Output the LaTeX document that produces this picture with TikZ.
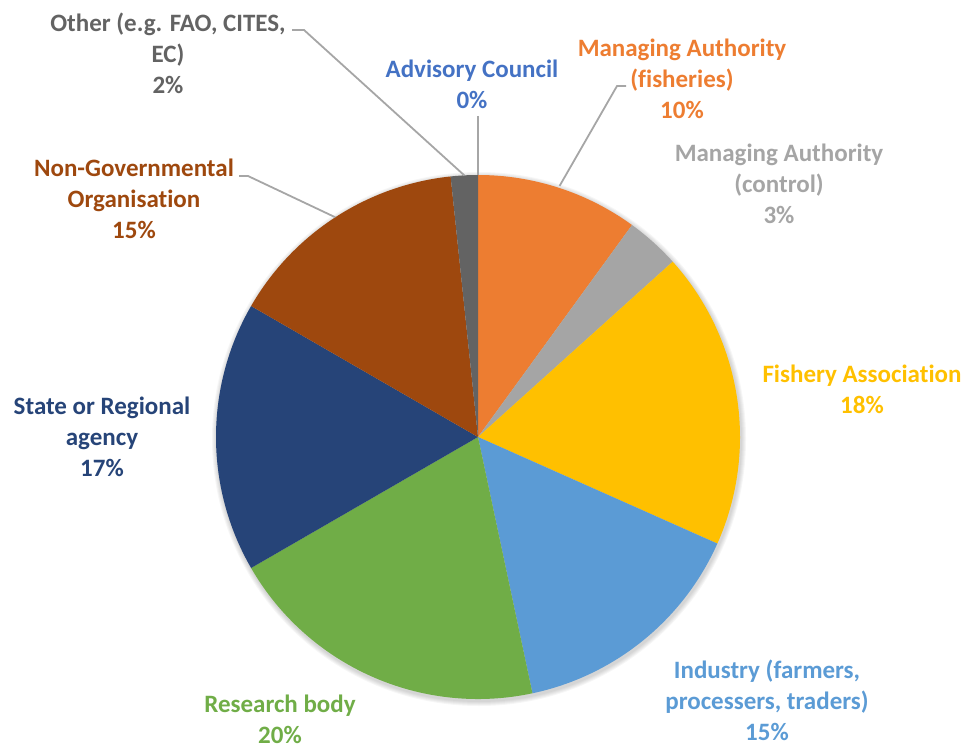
\documentclass[tikz,border=0pt]{standalone}
\usepackage{fontspec}
\setmainfont{Carlito}[Ligatures={NoCommon}]
\usetikzlibrary{calc}
\definecolor{cOrange}{HTML}{ED7D31}
\definecolor{cGray}{HTML}{A5A5A5}
\definecolor{cGold}{HTML}{FFC000}
\definecolor{cLBlue}{HTML}{5B9BD5}
\definecolor{cGreen}{HTML}{70AD47}
\definecolor{cDBlue}{HTML}{264478}
\definecolor{cBrown}{HTML}{9E480E}
\definecolor{cDGray}{HTML}{636363}
\definecolor{cBlue}{HTML}{4472C4}
\definecolor{cLeader}{HTML}{A6A6A6}
\tikzset{
  lbl/.style={align=center, inner sep=0pt, font=\fontsize{25}{31}\selectfont\bfseries},
  leader/.style={draw=cLeader, line width=1.8pt},
}
\newcommand{\pieslice}[3]{%
  \fill[#1] (C) -- ++(#2-90:262) arc[start angle=#2-90, end angle=#3-90, radius=262] -- cycle;}
\begin{document}
\begin{tikzpicture}[x=1pt,y=-1pt]
\useasboundingbox (0,0) rectangle (966,746);
\coordinate (C) at (478,437);
% soft shadow
\foreach \k in {1,...,5}{
  \fill[black, opacity=0.035] ($(C)+(1,2)$) circle[radius=262+\k];
}
\pieslice{cOrange}{0}{36}
\pieslice{cGray}{36}{48}
\pieslice{cGold}{48}{114}
\pieslice{cLBlue}{114}{168}
\pieslice{cGreen}{168}{240}
\pieslice{cDBlue}{240}{300}
\pieslice{cBrown}{300}{354}
\pieslice{cDGray}{354}{360}
% labels
\node[lbl, text=cDGray] (other) at (168,53) {Other (e.g. FAO, CITES,\\EC)\\2\%};
\node[lbl, text=cBlue] (advis) at (472,84) {Advisory Council\\0\%};
\node[lbl, text=cOrange] (mafish) at (682,79) {Managing Authority\\(fisheries)\\10\%};
\node[lbl, text=cGray] (macont) at (779,184) {Managing Authority\\(control)\\3\%};
\node[lbl, text=cGold] (fishass) at (862,389) {Fishery Association\\18\%};
\node[lbl, text=cLBlue] (indus) at (767,700) {Industry (farmers,\\processers, traders)\\15\%};
\node[lbl, text=cGreen] (resea) at (280,719) {Research body\\20\%};
\node[lbl, text=cDBlue] (state) at (102,437) {State or Regional\\agency\\17\%};
\node[lbl, text=cBrown] (ngo) at (134,199) {Non-Governmental\\Organisation\\15\%};
% leader lines
\coordinate (o1) at (292,30);
\coordinate (o2) at (304,30);
\coordinate (o3) at ($(C)+(357-90:262)$);
\draw[leader] (o1) -- (o2) -- (o3);
\coordinate (a1) at (478,116);
\coordinate (a2) at ($(C)+(0-90:262)$);
\draw[leader] (a1) -- (a2);
\coordinate (n1) at (239,176);
\coordinate (n2) at (248,176);
\coordinate (n3) at ($(C)+(327-90:262)$);
\draw[leader] (n1) -- (n2) -- (n3);
\coordinate (m1) at (626,86);
\coordinate (m2) at (617,86);
\coordinate (m3) at ($(C)+(18-90:264)$);
\draw[leader] (m1) -- (m2) -- (m3);
\end{tikzpicture}
\end{document}
